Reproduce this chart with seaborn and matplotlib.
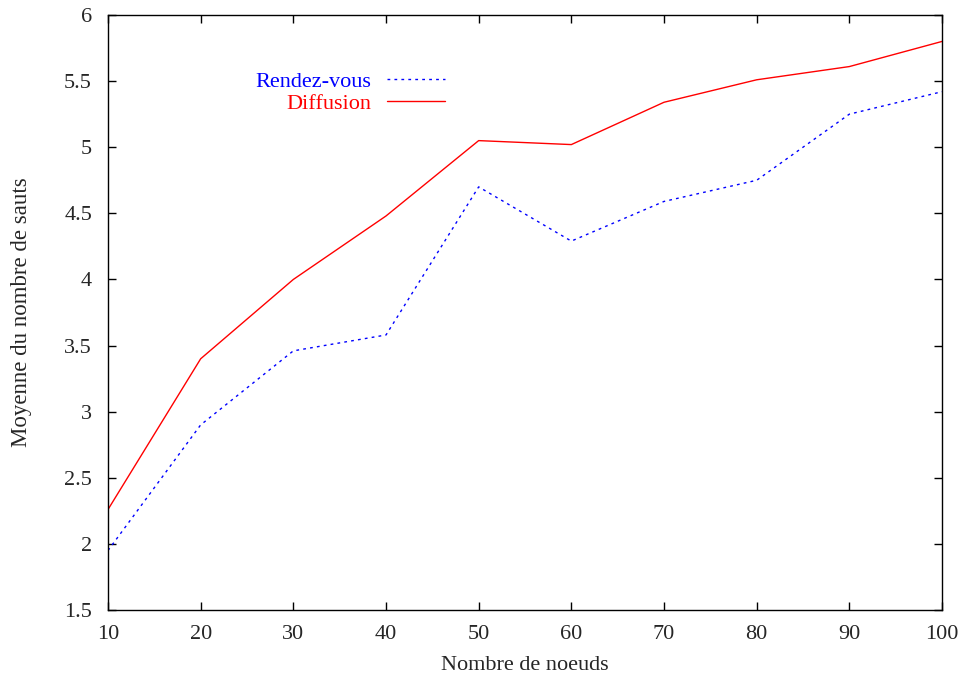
import matplotlib
matplotlib.use("Agg")
import matplotlib.pyplot as plt
import seaborn as sns
import pandas as pd

noeuds = [10, 20, 30, 40, 50, 60, 70, 80, 90, 100]
rendez_vous = [1.95, 2.90, 3.46, 3.58, 4.70, 4.29, 4.59, 4.75, 5.25, 5.42]
diffusion = [2.26, 3.40, 4.00, 4.48, 5.05, 5.02, 5.34, 5.51, 5.61, 5.80]
x_ticks = [10, 20, 30, 40, 50, 60, 70, 80, 90, 100]
y_ticks = [1.5, 2, 2.5, 3, 3.5, 4, 4.5, 5, 5.5, 6]
y_tick_labels = ["1.5", "2", "2.5", "3", "3.5", "4", "4.5", "5", "5.5", "6"]

sns.set_style("ticks")
plt.rcParams["font.family"] = ["Liberation Serif", "DejaVu Serif"]
FS = 16
plt.rcParams["font.size"] = FS

fig = plt.figure(figsize=(9.64, 6.77), dpi=100)
ax = fig.add_axes([108 / 964, 67 / 677, 834 / 964, 595 / 677])

df_rv = pd.DataFrame({"x": noeuds, "y": rendez_vous})
df_df = pd.DataFrame({"x": noeuds, "y": diffusion})

sns.lineplot(data=df_rv, x="x", y="y", ax=ax, color="#0000ff", lw=1.0,
             linestyle=(0, (2, 3)), label="Rendez-vous")
sns.lineplot(data=df_df, x="x", y="y", ax=ax, color="#ff0000", lw=1.0,
             label="Diffusion")

ax.set_xlim(10, 100)
ax.set_ylim(1.5, 6)
ax.set_xticks(x_ticks)
ax.set_xticklabels([str(v) for v in x_ticks])
ax.set_yticks(y_ticks)
ax.set_yticklabels(y_tick_labels)
ax.tick_params(direction="in", length=6, width=1, top=True, right=True,
               labelsize=FS, color="black")
ax.tick_params(axis="x", pad=11)
ax.tick_params(axis="y", pad=11.5)
for s in ax.spines.values():
    s.set_linewidth(1.0)
    s.set_color("black")

ax.set_xlabel("Nombre de noeuds", fontsize=FS, labelpad=8.5)
ax.set_ylabel("Moyenne du nombre de sauts", fontsize=FS + 0.5, labelpad=23)

leg = ax.legend(loc="upper right", bbox_to_anchor=(0.404, 0.905),
                borderaxespad=0, borderpad=0,
                markerfirst=False, frameon=False, handlelength=2.6,
                handletextpad=0.7, labelspacing=0.05, fontsize=FS,
                labelcolor="linecolor")

fig.savefig("out.png", dpi=100)
